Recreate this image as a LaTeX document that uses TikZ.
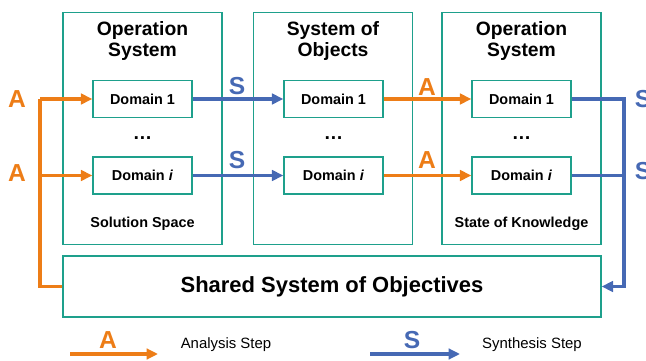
\documentclass[tikz,border=0pt]{standalone}
\usepackage{fontspec}
\setmainfont{Liberation Sans}
\usetikzlibrary{arrows.meta}
\definecolor{boxteal}{RGB}{30,160,140}
\definecolor{anaorange}{RGB}{237,125,23}
\definecolor{synblue}{RGB}{70,105,180}

\begin{document}
\begin{tikzpicture}[x=0.02cm, y=-0.02cm, line width=0.75pt,
  outerbox/.style={draw=boxteal, minimum width=3.18cm, minimum height=4.64cm, inner sep=0},
  domainbox/.style={draw=boxteal, fill=white, minimum width=1.98cm, minimum height=0.74cm, inner sep=0,
    font=\fontsize{8.2}{10}\selectfont\bfseries},
  title/.style={align=center, font=\fontsize{11}{12.5}\selectfont\bfseries},
  spacelabel/.style={font=\fontsize{8.2}{10}\selectfont\bfseries},
  steplabel/.style={font=\fontsize{14}{16}\selectfont\bfseries},
  ana/.style={draw=anaorange, line width=1.8pt},
  syn/.style={draw=synblue, line width=1.8pt},
  tip/.style={-{Triangle[length=6.5pt,width=6pt]}}]

\useasboundingbox (0,0) rectangle (646,361);

% Three outer boxes
\node[outerbox] (opsys) at (142.5,128.5) {};
\node[outerbox] (objsys) at (333,128.5) {};
\node[outerbox] (know) at (521.5,128.5) {};

% Titles
\node[title] at (142.5,41) {Operation\\System};
\node[title] at (333,41) {System of\\Objects};
\node[title] at (521.5,41) {Operation\\System};

% Domain boxes
\node[domainbox] (d11) at (142.5,99) {Domain 1};
\node[domainbox] (d1i) at (142.5,175.5) {Domain \textit{i}};
\node[domainbox] (d21) at (333.5,99) {Domain 1};
\node[domainbox] (d2i) at (333.5,175.5) {Domain \textit{i}};
\node[domainbox] (d31) at (521.5,99) {Domain 1};
\node[domainbox] (d3i) at (521.5,175.5) {Domain \textit{i}};

% dots between domains
\node[spacelabel] at (142.5,138) {\fontsize{11}{12}\selectfont\ldots};
\node[spacelabel] at (333.5,138) {\fontsize{11}{12}\selectfont\ldots};
\node[spacelabel] at (521.5,138) {\fontsize{11}{12}\selectfont\ldots};

% bottom labels
\node[spacelabel] at (142.5,224) {Solution Space};
\node[spacelabel] at (521.5,224) {State of Knowledge};

% Shared objectives
\node[draw=boxteal, minimum width=10.76cm, minimum height=1.22cm, inner sep=0,
  font=\fontsize{12.5}{14}\selectfont\bfseries] (shared) at (332,286.5) {Shared System of Objectives};

% Analysis from objectives into first operation system
\coordinate (lt) at (40,99);
\draw[ana] (shared.west) -| (lt);
\draw[ana,tip] (lt) -- (d11.west);
\draw[ana,tip] (lt |- d1i.west) -- (d1i.west);
\node[steplabel, text=anaorange] (a1) at (17,99) {A};
\node[steplabel, text=anaorange] (a2) at (17,173) {A};

% Synthesis into objects
\draw[syn,tip] (d11.east) -- (d21.west);
\draw[syn,tip] (d1i.east) -- (d2i.west);
\node[steplabel, text=synblue] (s1) at (237,86) {S};
\node[steplabel, text=synblue] (s2) at (237,160) {S};

% Analysis into state of knowledge
\draw[ana,tip] (d21.east) -- (d31.west);
\draw[ana,tip] (d2i.east) -- (d3i.west);
\node[steplabel, text=anaorange] (a3) at (427,87) {A};
\node[steplabel, text=anaorange] (a4) at (427,160) {A};

% Synthesis back to objectives
\coordinate (rt) at (624,99);
\draw[syn,tip] (d31.east) -- (rt) |- (shared.east);
\draw[syn] (d3i.east) -- (rt |- d3i.east);
\node[steplabel, text=synblue] (s3) at (643,99) {S};
\node[steplabel, text=synblue] (s4) at (643,171) {S};

% Legend
\coordinate (la) at (70,354);
\coordinate (lb) at (158,354);
\draw[ana,tip] (la) -- (lb);
\node[steplabel, text=anaorange] at (108,340) {A};
\node[font=\fontsize{8.5}{10}\selectfont] at (226,345) {Analysis Step};
\coordinate (lc) at (370,354);
\coordinate (ld) at (460,354);
\draw[syn,tip] (lc) -- (ld);
\node[steplabel, text=synblue] at (412,340) {S};
\node[font=\fontsize{8.5}{10}\selectfont] at (532,345) {Synthesis Step};

\end{tikzpicture}
\end{document}
